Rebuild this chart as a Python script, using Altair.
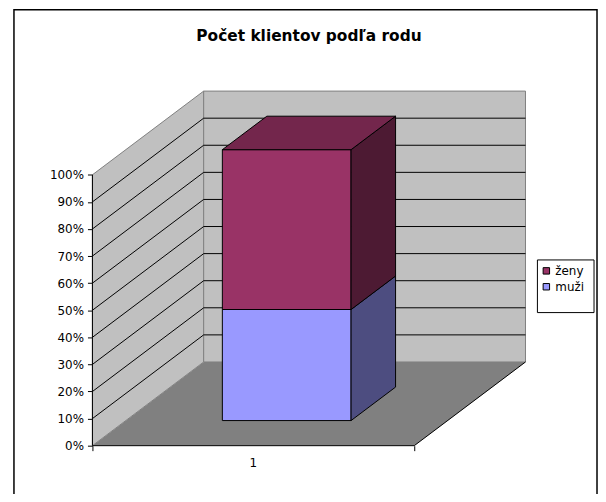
import altair as alt
import pandas as pd

# ---------------- data ----------------
TITLE = "Počet klientov podľa rodu"
categories = ["1"]
legend_order = ["ženy", "muži"]          # legend top -> bottom
stack_order = ["muži", "ženy"]           # stack bottom -> top
muzi = [0.41]
zeny = [0.59]
y_tick_values = [0.0, 0.1, 0.2, 0.3, 0.4, 0.5, 0.6, 0.7, 0.8, 0.9, 1.0]

# ---------------- style ----------------
front_colors = ["#993366", "#9999FF"]    # same order as legend_order
side_color = {"ženy": "#4D1A33", "muži": "#4D4D80"}
top_color = {"ženy": "#73264C", "muži": "#7373BF"}
WALL = "#C0C0C0"
FLOOR = "#808080"
EDGE = "#808080"
FONT = "DejaVu Sans"

# oblique projection of depth (fraction of full depth) -> data units
DX = 0.3457
DY = 0.309
D0, D1 = 0.3, 0.7          # bar depth range
BAR_HALF = 0.2             # half bar width (category band = 1)

n = len(categories)
values = {"muži": muzi, "ženy": zeny}

front_rows, side_rows, top_rows = [], [], []
for ci, cat in enumerate(categories):
    cx = ci + 0.5
    xl, xr = cx - BAR_HALF, cx + BAR_HALF
    total = sum(values[s][ci] for s in stack_order)
    lo = 0.0
    for si, s in enumerate(stack_order):
        hi = lo + values[s][ci] / total
        front_rows.append(dict(series=s, x=xl + DX * D0, x2=xr + DX * D0,
                               y=lo + DY * D0, y2=hi + DY * D0))
        for d in (D0, D1):
            side_rows.append(dict(seg=f"{ci}-{s}", fill=side_color[s],
                                  x=xr + DX * d, y=lo + DY * d, y2=hi + DY * d))
        if si == len(stack_order) - 1:
            for d in (D0, D1):
                top_rows.append(dict(seg=f"{ci}-{s}", fill=top_color[s],
                                     y=hi + DY * d, x=xl + DX * d, x2=xr + DX * d))
        lo = hi

front_df = pd.DataFrame(front_rows)
side_df = pd.DataFrame(side_rows)
top_df = pd.DataFrame(top_rows)

xs = alt.Scale(domain=[0, n + DX], nice=False, zero=False)
ys = alt.Scale(domain=[0, 1 + DY], nice=False, zero=False)

x_axis = alt.Axis(values=list(range(n + 1)), labels=False, domain=False,
                  grid=False, ticks=True, tickColor="black", tickSize=5,
                  tickWidth=1, title=None)
y_axis = alt.Axis(values=y_tick_values, format=".0%", domain=False,
                  grid=False, ticks=True, tickColor="black", tickSize=5,
                  tickWidth=1, labelColor="black", labelFont=FONT,
                  labelFontSize=12, labelPadding=4, title=None)


def X(f):
    return alt.X(f, type="quantitative", scale=xs, axis=x_axis)


def Y(f):
    return alt.Y(f, type="quantitative", scale=ys, axis=y_axis)


# floor
floor_df = pd.DataFrame({"y": [0, DY], "x": [0, DX], "x2": [n, n + DX]})
floor = alt.Chart(floor_df).mark_area(fill=FLOOR, orient="horizontal").encode(
    y=Y("y"), x=X("x"), x2="x2")

# left wall
lw_df = pd.DataFrame({"x": [0, DX], "y": [0, DY], "y2": [1, 1 + DY]})
left_wall = alt.Chart(lw_df).mark_area(fill=WALL, stroke=EDGE, strokeWidth=1,
                                       orient="vertical").encode(
    x=X("x"), y=Y("y"), y2="y2")

# back wall
bw_df = pd.DataFrame({"x": [DX], "x2": [n + DX], "y": [DY], "y2": [1 + DY]})
back_wall = alt.Chart(bw_df).mark_rect(fill=WALL, stroke=EDGE, strokeWidth=1).encode(
    x=X("x"), x2="x2", y=Y("y"), y2="y2")

# gridlines
grid_vals = y_tick_values[1:-1]
gb_df = pd.DataFrame({"x": [DX] * len(grid_vals), "x2": [n + DX] * len(grid_vals),
                      "y": [v + DY for v in grid_vals]})
grid_back = alt.Chart(gb_df).mark_rule(color="black", strokeWidth=1).encode(
    x=X("x"), x2="x2", y=Y("y"), y2="y")
gs_df = pd.DataFrame({"x": [0] * len(grid_vals), "x2": [DX] * len(grid_vals),
                      "y": grid_vals, "y2": [v + DY for v in grid_vals]})
grid_side = alt.Chart(gs_df).mark_rule(color="black", strokeWidth=1).encode(
    x=X("x"), x2="x2", y=Y("y"), y2="y2")

# floor edges and value axis line
edges_df = pd.DataFrame({"x": [0, n, 0], "x2": [n, n + DX, 0],
                         "y": [0, 0, 0], "y2": [0, DY, 1]})
edges = alt.Chart(edges_df).mark_rule(color="black", strokeWidth=1).encode(
    x=X("x"), x2="x2", y=Y("y"), y2="y2")

# bar faces
front = alt.Chart(front_df).mark_rect(stroke="black", strokeWidth=1, opacity=1).encode(
    x=X("x"), x2="x2", y=Y("y"), y2="y2",
    color=alt.Color("series:N",
                    scale=alt.Scale(domain=legend_order, range=front_colors),
                    legend=alt.Legend(title=None, orient="none", legendX=451, legendY=175,
                                      symbolType="square", symbolSize=42,
                                      symbolStrokeColor="black", symbolStrokeWidth=1,
                                      labelFont=FONT, labelFontSize=12, labelColor="black",
                                      labelOffset=3, rowPadding=4, padding=0)))
side = alt.Chart(side_df).mark_area(stroke="black", strokeWidth=1, orient="vertical").encode(
    x=X("x"), y=Y("y"), y2="y2", fill=alt.Fill("fill:N", scale=None), detail="seg:N")
top = alt.Chart(top_df).mark_area(stroke="black", strokeWidth=1, orient="horizontal").encode(
    y=Y("y"), x=X("x"), x2="x2", fill=alt.Fill("fill:N", scale=None), detail="seg:N")

# category label
cat_df = pd.DataFrame({"cat": categories, "x": [i + 0.5 for i in range(n)], "y": [0] * n})
cat_text = alt.Chart(cat_df).mark_text(font=FONT, fontSize=12, dy=17, baseline="middle",
                                       color="black").encode(
    x=X("x"), y=Y("y"), text="cat:N")

# frames
one = pd.DataFrame({"k": [0]})
legend_box = alt.Chart(one).mark_rect(fill="white", stroke="black", strokeWidth=1).encode(
    x=alt.value(448), x2=alt.value(505), y=alt.value(170), y2=alt.value(223))
outer = alt.Chart(one).mark_rect(filled=False, stroke="black", strokeWidth=1.5).encode(
    x=alt.value(-79), x2=alt.value(508), y=alt.value(-82), y2=alt.value(420))

chart = alt.layer(
    floor, left_wall, back_wall, grid_back, grid_side, edges,
    front, side, top, cat_text, legend_box, outer
).properties(
    width=436, height=357,
    title=alt.TitleParams(TITLE, font=FONT, fontSize=15.5, fontWeight="bold",
                          color="black", anchor="middle", offset=-36),
    padding={"left": 85, "top": 82, "right": 73, "bottom": 47},
    autosize=alt.AutoSizeParams(type="none"),
    background="white",
).configure_view(stroke=None)

chart.save("out.html", embed_options={"renderer": "svg", "actions": False})
